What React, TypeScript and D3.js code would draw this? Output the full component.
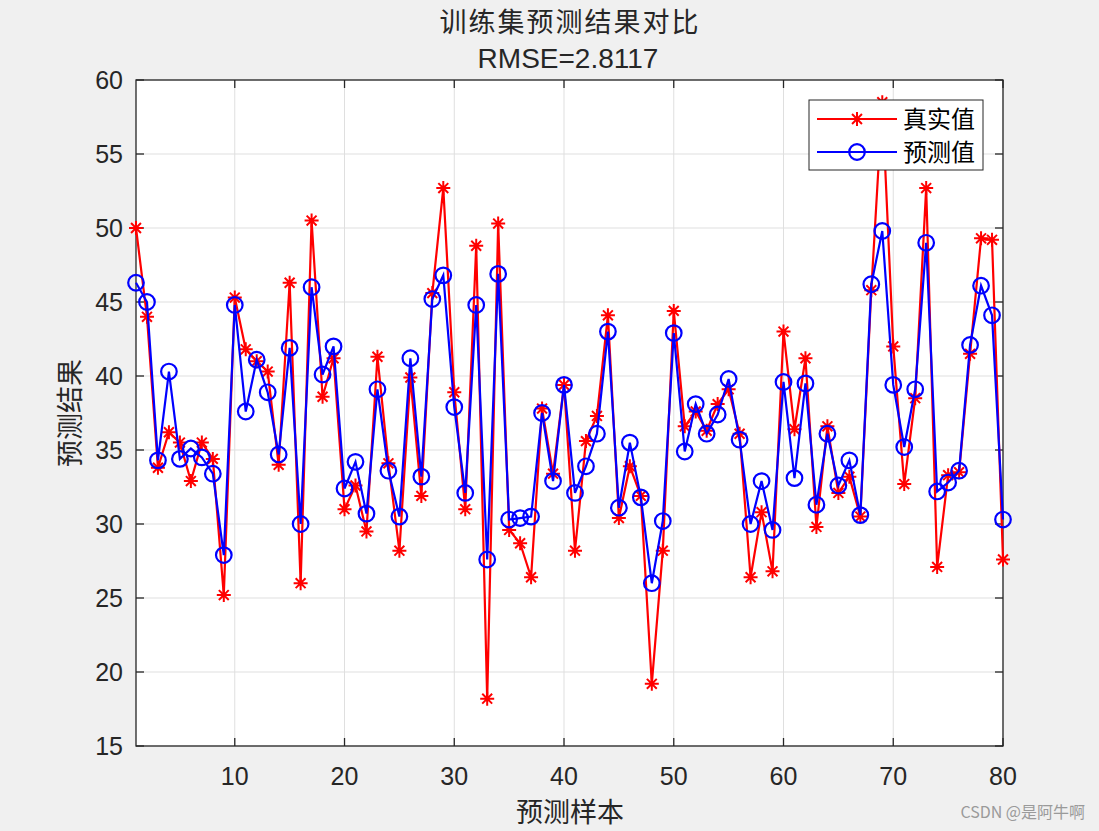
import React from "react";
import * as d3 from "d3";

const realValues = [
  50.0, 44.0, 33.8, 36.2, 35.5, 32.9, 35.5, 34.4, 25.2, 45.3,
  41.8, 41.0, 40.3, 34.0, 46.3, 26.0, 50.5, 38.6, 41.2, 31.0,
  32.6, 29.5, 41.3, 34.1, 28.2, 39.9, 31.9, 45.6, 52.7, 38.9,
  31.0, 48.8, 18.2, 50.3, 29.6, 28.7, 26.4, 37.8, 33.4, 39.4,
  28.2, 35.6, 37.3, 44.1, 30.4, 33.9, 31.9, 19.2, 28.2, 44.4,
  36.6, 37.6, 36.3, 38.1, 39.1, 36.1, 26.4, 30.8, 26.8, 43.0,
  36.4, 41.2, 29.8, 36.6, 32.1, 33.2, 30.5, 45.8, 58.5, 42.0,
  32.7, 38.5, 52.7, 27.1, 33.3, 33.5, 41.5, 49.3, 49.2, 27.6,
];

const predValues = [
  46.3, 45.0, 34.3, 40.3, 34.4, 35.1, 34.5, 33.4, 27.9, 44.8,
  37.6, 41.1, 38.9, 34.7, 41.9, 30.0, 46.0, 40.1, 42.0, 32.4,
  34.2, 30.7, 39.1, 33.6, 30.5, 41.2, 33.2, 45.2, 46.8, 37.9,
  32.1, 44.8, 27.6, 46.9, 30.3, 30.4, 30.5, 37.5, 32.9, 39.4,
  32.1, 33.9, 36.1, 43.0, 31.1, 35.5, 31.8, 26.0, 30.2, 42.9,
  34.9, 38.1, 36.1, 37.4, 39.8, 35.7, 30.0, 32.9, 29.6, 39.6,
  33.1, 39.5, 31.3, 36.1, 32.6, 34.3, 30.6, 46.2, 49.8, 39.4,
  35.2, 39.1, 49.0, 32.2, 32.8, 33.6, 42.1, 46.1, 44.1, 30.3,
];

const xTicks = [10, 20, 30, 40, 50, 60, 70, 80];
const yTicks = [15, 20, 25, 30, 35, 40, 45, 50, 55, 60];
const seriesNames = ["真实值", "预测值"];
const titleLine1 = "训练集预测结果对比";
const titleLine2 = "RMSE=2.8117";
const xLabel = "预测样本";
const yLabel = "预测结果";

const W = 1099;
const H = 831;
const M = { left: 136, right: 1003, top: 80, bottom: 746 };
const AX = "#262626";
const CJK = "'Noto Sans CJK SC', sans-serif";
const LAT = "'Liberation Sans', Arial, sans-serif";

function Asterisk({ cx, cy, r, color }: { cx: number; cy: number; r: number; color: string }) {
  const d = r * 0.7071;
  const p = `M${cx - r},${cy}L${cx + r},${cy}M${cx},${cy - r}L${cx},${cy + r}M${cx - d},${cy - d}L${cx + d},${cy + d}M${cx - d},${cy + d}L${cx + d},${cy - d}`;
  return <path d={p} stroke={color} strokeWidth={2} fill="none" />;
}

export default function App() {
  const x = d3.scaleLinear().domain([1, 80]).range([M.left, M.right]);
  const y = d3.scaleLinear().domain([15, 60]).range([M.bottom, M.top]);
  const idx = realValues.map((_, i) => i + 1);
  const line = d3
    .line<number>()
    .x((_, i) => x(i + 1))
    .y((v) => y(v));

  const tickLen = 8;
  const legX = 809, legY = 100, legW = 174, legH = 70;
  const rows = [
    { name: seriesNames[0], color: "#ff0000", kind: "star", cy: 119 },
    { name: seriesNames[1], color: "#0000ff", kind: "circle", cy: 152 },
  ];

  return (
    <svg
      width={W}
      height={H}
      style={{ position: "absolute", left: 0, top: 0, display: "block" }}
    >
      <rect x={0} y={0} width={W} height={H} fill="#f0f0f0" />
      <rect
        x={M.left}
        y={M.top}
        width={M.right - M.left}
        height={M.bottom - M.top}
        fill="#ffffff"
      />
      {/* grid */}
      {xTicks.map((t) => (
        <line key={"gx" + t} x1={x(t)} x2={x(t)} y1={M.top} y2={M.bottom} stroke="#dfdfdf" strokeWidth={1} />
      ))}
      {yTicks.map((t) => (
        <line key={"gy" + t} x1={M.left} x2={M.right} y1={y(t)} y2={y(t)} stroke="#dfdfdf" strokeWidth={1} />
      ))}
      {/* axes box */}
      <rect
        x={M.left}
        y={M.top}
        width={M.right - M.left}
        height={M.bottom - M.top}
        fill="none"
        stroke={AX}
        strokeWidth={1.3}
      />
      {xTicks.map((t) => (
        <g key={"tx" + t}>
          <line x1={x(t)} x2={x(t)} y1={M.bottom} y2={M.bottom - tickLen} stroke={AX} strokeWidth={1.3} />
          <line x1={x(t)} x2={x(t)} y1={M.top} y2={M.top + tickLen} stroke={AX} strokeWidth={1.3} />
          <text x={x(t)} y={785} textAnchor="middle" fontFamily={LAT} fontSize={25} fill={AX}>
            {t}
          </text>
        </g>
      ))}
      {yTicks.map((t) => (
        <g key={"ty" + t}>
          <line x1={M.left} x2={M.left + tickLen} y1={y(t)} y2={y(t)} stroke={AX} strokeWidth={1.3} />
          <line x1={M.right} x2={M.right - tickLen} y1={y(t)} y2={y(t)} stroke={AX} strokeWidth={1.3} />
          <text x={123} y={y(t)} dy="0.36em" textAnchor="end" fontFamily={LAT} fontSize={25} fill={AX}>
            {t}
          </text>
        </g>
      ))}
      {/* series */}
      <g>
        <path d={line(realValues) || ""} stroke="#ff0000" strokeWidth={2.2} fill="none" />
        {realValues.map((v, i) => (
          <Asterisk key={"s" + i} cx={x(idx[i])} cy={y(v)} r={7} color="#ff0000" />
        ))}
        <path d={line(predValues) || ""} stroke="#0000ff" strokeWidth={2.2} fill="none" />
        {predValues.map((v, i) => (
          <circle key={"c" + i} cx={x(idx[i])} cy={y(v)} r={7.8} stroke="#0000ff" strokeWidth={2.2} fill="none" />
        ))}
      </g>
      {/* titles */}
      <text x={570} y={32} textAnchor="middle" fontFamily={CJK} fontSize={27} letterSpacing={2} fill={AX}>
        {titleLine1}
      </text>
      <text x={568} y={68} textAnchor="middle" fontFamily={LAT} fontSize={28} fill={AX}>
        {titleLine2}
      </text>
      <text x={570} y={822} textAnchor="middle" fontFamily={CJK} fontSize={27} fill={AX}>
        {xLabel}
      </text>
      <text
        transform={`translate(80,${(M.top + M.bottom) / 2}) rotate(-90)`}
        textAnchor="middle"
        fontFamily={CJK}
        fontSize={27}
        fill={AX}
      >
        {yLabel}
      </text>
      {/* legend */}
      <rect x={legX} y={legY} width={legW} height={legH} fill="#ffffff" stroke={AX} strokeWidth={1} />
      {rows.map((r) => (
        <g key={r.name}>
          <line x1={817} x2={897} y1={r.cy} y2={r.cy} stroke={r.color} strokeWidth={2.2} />
          {r.kind === "star" ? (
            <Asterisk cx={857} cy={r.cy} r={7} color={r.color} />
          ) : (
            <circle cx={857} cy={r.cy} r={7.8} stroke={r.color} strokeWidth={2.2} fill="none" />
          )}
          <text x={903} y={r.cy} dy="0.36em" fontFamily={CJK} fontSize={24} fill="#000000">
            {r.name}
          </text>
        </g>
      ))}
      <text x={1085} y={818} textAnchor="end" fontFamily={CJK} fontSize={16} fill="#9a9a9a">
        CSDN @是阿牛啊
      </text>
    </svg>
  );
}
